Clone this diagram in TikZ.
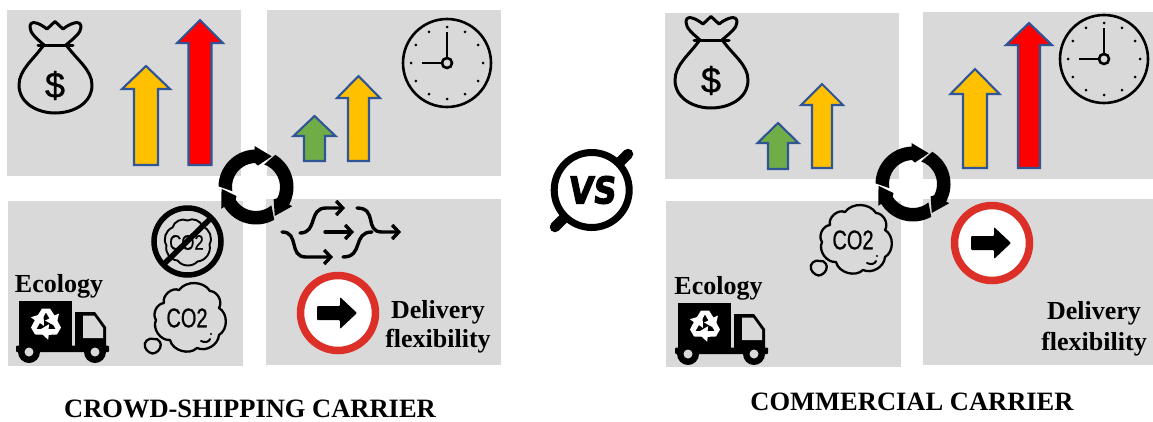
\documentclass[tikz,border=0pt]{standalone}
\usepackage{fontspec}
\usepackage{graphicx}
\setmainfont{Liberation Serif}
\newfontfamily\sansf[FakeBold=0.8]{Liberation Sans}
\newfontfamily\vsfont[BoldFeatures={FakeSlant=0.12,FakeBold=3}]{DejaVu Sans}
\usetikzlibrary{arrows.meta}
\definecolor{panelgrey}{HTML}{D9D9D9}
\definecolor{arrowblue}{HTML}{2F5597}
\definecolor{goldy}{HTML}{FFC000}
\definecolor{greeny}{HTML}{70AD47}
\definecolor{signred}{HTML}{DC2F27}
\tikzset{
  panel/.style={fill=panelgrey,draw=none},
  uparrow/.style={draw=arrowblue,line width=2.1pt,line join=miter,miter limit=10},
  iconline/.style={draw=black,line width=3pt,line join=round,line cap=round},
  boldlabel/.style={font=\fontsize{26}{28}\selectfont\bfseries,inner sep=0pt,text=black},
  titlelabel/.style={font=\fontsize{26.5}{28}\selectfont\bfseries,inner sep=0pt,text=black},
  chev/.style={-{Straight Barb[length=6.5pt,width=14pt,line width=3.4pt]},line width=3.4pt,line cap=round},
  plainflow/.style={line width=3.4pt,line cap=round},
  pics/moneybag/.style={code={
    \draw[iconline] (44,45) .. controls (36,38) and (30,33) .. (30,27)
      .. controls (30,20) and (38,22) .. (47,29) -- (55,21.5) -- (63,29)
      .. controls (72,22) and (81,20) .. (81,27) .. controls (81,33) and (74,38) .. (66,45);
    \draw[iconline] (38,45) -- (73,45);
    \draw[iconline] (43,46) .. controls (33,60) and (19,70) .. (19,85)
      .. controls (19,103) and (37,113) .. (55,113) .. controls (74,113) and (92,103) .. (92,85)
      .. controls (92,70) and (77,60) .. (67,46);
    \node[inner sep=0pt,font=\sansf\fontsize{36}{36}\selectfont,text=black] (-dollar) at (55,85.5) {\$};
  }},
  pics/clockface/.style={code={
    \draw[line width=2.6pt,fill=none] (0,0) circle[radius=44pt];
    \foreach \a in {0,30,...,330}{\fill[black] (\a:36) circle[radius=1.5pt];}
    \draw[line width=2.6pt] (0,-5) -- (0,-31);
    \draw[line width=2.6pt] (-5,0) -- (-25,0);
    \draw[line width=2.6pt] (0,0) circle[radius=5pt];
  }},
  pics/cyclering/.style={code={
    \begin{scope}[y=1pt]
    \foreach \r in {0,-120,-240}{
      \begin{scope}[rotate=\r]
      \fill[black] (179:37.5) arc[start angle=179,end angle=92,radius=37.5pt]
        -- (92:41) -- (63:34.5) -- (85:21.5) -- (92:24)
        arc[start angle=92,end angle=190,radius=24pt] -- cycle;
      \end{scope}
    }
    \end{scope}
  }},
  pics/cloudicon/.style={code={
    \draw[line width=2.3pt,line join=round] (-23,-15) to[bend left=65] (-8,-28) to[bend left=55] (23,-27)
      to[bend left=60] (32,-10) to[bend left=60] (32,17) to[bend left=55] (10,30)
      to[bend left=60] (-17,22) to[bend left=60] (-31,2) to[bend left=60] cycle;
    \draw[line width=2pt,line cap=round] (14,23) .. controls (18,25) and (22,24) .. (23,21);
    \fill (24,16) circle[radius=1.2pt];
    \draw[line width=2.3pt,line join=round] (-33,21) .. controls (-38,19) and (-44,24) .. (-42,29)
      .. controls (-41,33) and (-35,37) .. (-32,35) .. controls (-27,33) and (-25,27) .. (-27,24)
      .. controls (-28,21) and (-31,21) .. (-33,21);
    \node[inner sep=0pt,font=\sansf\fontsize{27}{27}\selectfont] (-co) at (0,0) {\scalebox{0.74}[1]{CO2}};
  }},
  pics/truckicon/.style={code={
    \fill (19,301) rectangle (72,347);
    \fill (75,312) -- (95,312) -- (106,327) -- (106,347) -- (75,347) -- cycle;
    \fill[panelgrey] (83,315.5) -- (94,315.5) -- (103,328) -- (103,338) -- (83,338) -- cycle;
    \fill[rounded corners=1pt] (16,345.5) rectangle (109,352);
    \fill (29,352) circle[radius=11pt];
    \fill (95,352) circle[radius=11pt];
    \fill[panelgrey] (29,352) circle[radius=4.5pt];
    \fill[panelgrey] (95,352) circle[radius=4.5pt];
    \begin{scope}[shift={(46,323.5)},y=1pt]
    \foreach \r in {0,120,240}{
      \fill[white,rotate=\r] (-9,7) -- (-4,15) -- (4,15) -- (8.5,8) -- (13,10) -- (10,-3)
        -- (-1,3) -- (3.5,5) -- (0,11) -- (-4,4.5) -- cycle;
    }
    \end{scope}
  }},
  pics/noway/.style={code={
    \fill[white] (0,0) circle[radius=41pt];
    \draw[signred,line width=7.5pt] (0,0) circle[radius=37.5pt];
    \fill[black,rounded corners=1pt] (-21,-7) -- (2,-7) -- (2,-16) -- (19,0) -- (2,16) -- (2,7) -- (-21,7) -- cycle;
  }}
}
\newcommand{\uparr}[8]{% name x halfshaft halfhead tip base bottom colour
  \draw[uparrow,fill=#8] (#2,#5) -- (#2+#4,#6) -- (#2+#3,#6) -- (#2+#3,#7) -- (#2-#3,#7) -- (#2-#3,#6) -- (#2-#4,#6) -- cycle;
}
\begin{document}
\begin{tikzpicture}[x=1pt,y=-1pt]
\useasboundingbox (0,0) rectangle (1153,421);
% left panels
\fill[panel] (7,10) rectangle (241,176);
\fill[panel] (267,10) rectangle (501,176);
\fill[panel] (8,201) rectangle (243,366);
\fill[panel] (266,199) rectangle (501,365);
% right panels
\fill[panel] (665,13) rectangle (899,179);
\fill[panel] (923,12) rectangle (1153,179);
\fill[panel] (666,201) rectangle (901,367);
\fill[panel] (923,199) rectangle (1153,365);
% bags
\pic (bagL) at (0,0) {moneybag};
\pic (bagR) at (656,-5) {moneybag};
% arrows
\uparr{a1}{146}{12}{24}{66}{89}{165}{goldy}
\uparr{a2}{200}{11.5}{23}{20}{43}{165}{red}
\uparr{a3}{314.5}{10.5}{21}{116}{136}{161}{greeny}
\uparr{a4}{358.5}{10.5}{21.5}{76}{98}{161}{goldy}
\uparr{a5}{778}{10}{20.5}{123}{143}{169}{greeny}
\uparr{a6}{822}{10}{21}{84}{105}{168}{goldy}
\uparr{a7}{975}{12}{24.5}{69}{94}{168}{goldy}
\uparr{a8}{1029}{11}{23}{23}{45}{168}{red}
% clocks
\pic (clockL) at (447,63) {clockface};
\pic (clockR) at (1104,59) {clockface};
% clouds
\pic (cloudL) at (187,318) {cloudicon};
\pic (cloudR) at (853,240) {cloudicon};
% trucks
\pic (truckL) at (0,0) {truckicon};
\pic (truckR) at (659,2) {truckicon};
% no-CO2 sign
\begin{scope}[shift={(187.5,241.5)}]
  \draw[line width=1.9pt] (-15,-14) to[bend left=50] (0,-21) to[bend left=50] (15,-15)
    to[bend left=50] (22,3) to[bend left=50] (10,20) to[bend left=50] (-10,19)
    to[bend left=50] (-21,4) to[bend left=50] cycle;
  \node[inner sep=0pt,font=\sansf\fontsize{21}{21}\selectfont] (noco) at (-1,1) {\scalebox{0.8}[1]{CO2}};
  \draw[line width=5.5pt] (0,0) circle[radius=33.5pt];
  \draw[line width=5.5pt] (-24,23) -- (24,-24);
\end{scope}
% merging flows
\draw[chev] (300,233) .. controls (318,233) and (308,208) .. (326,208) -- (345,208);
\draw[chev] (325,232) -- (354,232);
\draw[chev] (282,232) .. controls (300,232) and (288,257) .. (306,257) -- (333,257);
\draw[chev] (357,208) .. controls (378,208) and (364,232) .. (382,232) -- (401,232);
\draw[plainflow] (343,257) .. controls (364,257) and (352,232) .. (372,232);
% no-way signs
\pic (signL) at (338,313) {noway};
\pic (signR) at (992,243) {noway};
% cycle rings
\pic (ringL) at (256,187) {cyclering};
\pic (ringR) at (913,184) {cyclering};
% vs badge
\draw[line width=10.5pt,line cap=round] (619,163) -- (628,154);
\draw[line width=10.5pt,line cap=round] (564,218) -- (555,227);
\draw[line width=7pt,fill=white] (591.7,190) circle[radius=37.5pt];
\node[inner sep=0pt,font=\vsfont\bfseries\fontsize{37}{37}\selectfont] (vs) at (591.5,190) {\scalebox{0.86}[1]{VS}};
% labels
\node[boldlabel,anchor=base] (ecoL) at (59,292) {Ecology};
\node[boldlabel,anchor=base] (ecoR) at (718.5,294) {Ecology};
\node[boldlabel] (delL) at (438,312) {Delivery};
\node[boldlabel] (flexL) at (438,341) {flexibility};
\node[boldlabel] (delR) at (1094,313) {Delivery};
\node[boldlabel] (flexR) at (1094,344) {flexibility};
\node[titlelabel] (titleL) at (250,409) {CROWD-SHIPPING CARRIER};
\node[titlelabel] (titleR) at (912,402) {COMMERCIAL CARRIER};
\end{tikzpicture}
\end{document}
